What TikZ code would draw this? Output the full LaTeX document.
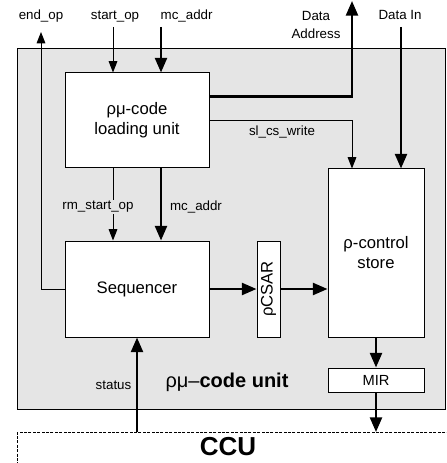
\documentclass[tikz,border=0pt]{standalone}
\usepackage{fontspec}
\setmainfont{Liberation Sans}
\usetikzlibrary{arrows.meta,positioning,calc}
\definecolor{unitgray}{gray}{0.9}

\begin{document}
\begin{tikzpicture}[
  x=0.75pt, y=-0.75pt,
  font=\fontsize{12.5}{15}\selectfont,
  sig/.style={line width=0.75pt, -{Triangle[length=8.5pt, width=6.5pt]}},
  bus/.style={line width=1.8pt, -{Triangle[length=11pt, width=9pt]}},
  lbl/.style={font=\fontsize{10}{13.5}\selectfont},
  block/.style={draw, fill=white, line width=0.75pt, inner sep=0pt, align=center},
]
\useasboundingbox (0,0) rectangle (446,463);
\clip (0,0) rectangle (446,463);

% Unit frame and CCU
\node[draw, fill=unitgray, line width=0.75pt, minimum width=321pt, minimum height=270pt, inner sep=0pt] (pmu) at (231,229) {};
\node[draw, dashed, dash pattern=on 2.2pt off 1.1pt, line width=0.6pt, anchor=north west,
      minimum width=340pt, minimum height=40pt, inner sep=0pt] (ccu) at (17,432) {};
\node[font=\bfseries\fontsize{19.5}{22}\selectfont] (ccutxt) at (228,447) {CCU};
\node[anchor=base, font=\fontsize{15}{17}\selectfont] (unitlbl) at (227,387) {ρμ–\textbf{code unit}};

% Blocks
\node[block, minimum width=108pt, minimum height=71.25pt] (lcu)    at (137,120.5) {ρμ-code\\loading unit};
\node[block, minimum width=108pt, minimum height=72pt]    (seq)    at (137,289)   {Sequencer};
\node[block, minimum width=17.25pt, minimum height=72pt]  (csar)   at (268.5,289) {};
\node[rotate=90]                                          (csartxt) at (csar)     {ρCSAR};
\node[block, minimum width=72pt, minimum height=126pt]    (cstore) at (376,253)   {ρ-control\\store};
\node[block, minimum width=72pt, minimum height=18pt, font=\fontsize{11}{13}\selectfont] (mir) at (376,380) {MIR};

% Signals at the top
\coordinate (endop)    at (41,32);
\coordinate (startop)  at (113,27);
\coordinate (mcaddr)   at (161,27);
\coordinate (dataaddr) at (352,1);
\coordinate (datain)   at (401,27);
\node[lbl, anchor=base] (endoplbl)   at (41,20)  {end\_op};
\node[lbl, anchor=base] (startoplbl) at (115,20) {start\_op};
\node[lbl, anchor=base west] (mcaddrlbl) at (156,20) {mc\_addr};
\node[lbl, align=center] (dataaddrlbl) at (316,25) {Data\\Address};
\node[lbl, anchor=base] (datainlbl)  at (400,20) {Data In};

\draw[sig] (seq.west) -| (endop);
\draw[sig] (startop) -- (startop |- lcu.north);
\draw[bus] (mcaddr) -- (mcaddr |- lcu.north);
\draw[bus] ($(lcu.north east)+(0,24)$) -| (dataaddr);
\draw[bus] (datain) -- (datain |- cstore.north);

% Loading unit -> control store
\draw[sig] (lcu.east) -| ($(cstore.north)+(-24,0)$);
\node[lbl, below] (slcslbl) at (282,121) {sl\_cs\_write};

% Loading unit -> sequencer
\draw[sig] ($(lcu.south)+(-24,0)$) -- ($(seq.north)+(-24,0)$);
\draw[bus] ($(lcu.south)+(24,0)$) -- ($(seq.north)+(24,0)$);
\node[lbl, fill=unitgray, inner sep=1pt] (rmlbl) at (98,207) {rm\_start\_op};
\node[lbl] (mcaddr2lbl) at (196,207) {mc\_addr};

% Data path
\draw[bus] (seq.east) -- (csar.west);
\draw[bus] (csar.east) -- (csar.east -| cstore.west);
\draw[bus] (cstore.south) -- (mir.north);
\draw[bus] (mir.south) -- (mir.south |- ccu.north);

% Status from CCU
\draw[bus] (ccu.north -| seq.south) -- (seq.south);
\node[lbl, left] (statuslbl) at (136,385) {status};

\end{tikzpicture}
\end{document}
